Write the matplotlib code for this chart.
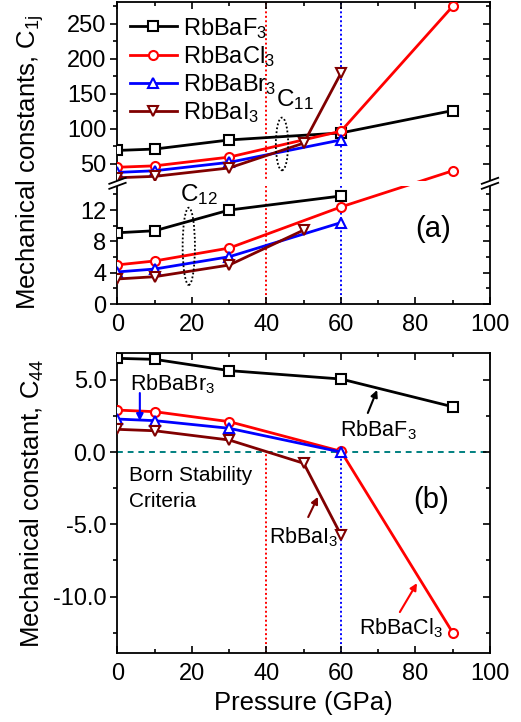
import numpy as np
import matplotlib
matplotlib.use("Agg")
import matplotlib.pyplot as plt
from matplotlib.patches import Ellipse, Rectangle
from matplotlib.lines import Line2D

plt.rcParams['font.family'] = ['Liberation Sans', 'DejaVu Sans']
plt.rcParams['mathtext.default'] = 'regular'

# ---------------- data ----------------
p_F = [0, 10, 30, 60, 90]
p_Cl = [0, 10, 30, 60, 90]
p_Br = [0, 10, 30, 60]
p_I = [0, 10, 30, 50, 60]

c11_F = [69, 71, 84, 94, 126]
c11_Cl = [45, 47, 59.5, 96.5, 275]
c11_Br = [37.6, 40, 52, 84]
c11_I = [30, 32, 44, 79.5, 179.5]

p12_F = [0, 10, 30, 60]
c12_F = [9.1, 9.36, 12.0, 13.8]
p12_Cl = [0, 10, 30, 60, 90]
c12_Cl = [5.0, 5.5, 7.15, 12.4, 40]
p12_Br = [0, 10, 30, 60]
c12_Br = [4.1, 4.47, 6.04, 10.4]
p12_I = [0, 10, 30, 50]
c12_I = [3.2, 3.49, 4.98, 9.45]

c44_F = [6.48, 6.41, 5.63, 5.05, 3.13]
c44_Cl = [2.9, 2.79, 2.1, 0.05, -12.5]
c44_Br = [2.28, 2.17, 1.64, 0.0]
c44_I = [1.57, 1.47, 0.83, -0.78, -5.74]

names = ['RbBaF$_3$', 'RbBaCl$_3$', 'RbBaBr$_3$', 'RbBaI$_3$']
colors = ['black', '#ff0000', '#0000ff', '#800000']
markers = ['s', 'o', '^', 'v']

x_ticks = [0, 20, 40, 60, 80, 100]
y1_ticks = [0, 4, 8, 12, 50, 100, 150, 200, 250]
y1_minor = [2, 6, 10, 14, 75, 125, 175, 225, 275]
y2_ticks = [5.0, 0.0, -5.0, -10.0]
y2_minor = [2.5, -2.5, -7.5, -12.5]

# broken-axis scale
L1, U0, U1 = 15.5, 23.0, 281.0
K = 0.0894


def fwd(y):
    y = np.asarray(y, dtype=float)
    return np.where(y <= L1, y, np.where(y >= U0, L1 + (y - U0) * K, L1))


def inv(t):
    t = np.asarray(t, dtype=float)
    return np.where(t <= L1, t, U0 + (t - L1) / K)


FS = 17
LFS = 18.5
fig = plt.figure(figsize=(5.21, 7.22), dpi=100)
ax1 = fig.add_axes([0.2255, 0.5789, 0.7150, 0.4183])
ax2 = fig.add_axes([0.2255, 0.0956, 0.7150, 0.4155])

lw = 2.0
ms = 6.5
mew = 1.5

# ---------- panel (a) ----------
ax1.set_yscale('function', functions=(fwd, inv))
c11 = [(p_F, c11_F), (p_Cl, c11_Cl), (p_Br, c11_Br), (p_I, c11_I)]
c12 = [(p12_F, c12_F), (p12_Cl, c12_Cl), (p12_Br, c12_Br), (p12_I, c12_I)]
for (px, py), name, c, m in zip(c11, names, colors, markers):
    ax1.plot(px, py, color=c, marker=m, lw=lw, ms=ms, mew=mew, mfc='white',
             label=name, zorder=3)
for (px, py), c, m in zip(c12, colors, markers):
    ax1.plot(px, py, color=c, marker=m, lw=lw, ms=ms, mew=mew, mfc='white',
             zorder=3)

ax1.axvline(40, color='#ff0000', ls=(0, (1, 1.3)), lw=1.4, zorder=1)
ax1.axvline(60, color='#0000ff', ls=(0, (1, 1.3)), lw=1.4, zorder=1)

ax1.set_xlim(0, 100)
ax1.set_ylim(0, U1)
ax1.set_xticks(x_ticks)
ax1.set_xticks([10, 30, 50, 70, 90], minor=True)
ax1.set_yticks(y1_ticks)
ax1.set_yticklabels([str(v) for v in y1_ticks])
ax1.set_yticks(y1_minor, minor=True)
ax1.tick_params(axis='x', which='both', direction='in', top=True, bottom=True,
                labelsize=FS, pad=7, width=1.2)
ax1.tick_params(axis='x', which='major', length=5)
ax1.tick_params(axis='x', which='minor', length=3)
ax1.tick_params(axis='y', which='both', direction='out', left=True, right=False,
                labelsize=FS, pad=3, width=1.2)
ax1.tick_params(axis='y', which='major', length=5)
ax1.tick_params(axis='y', which='minor', length=3)
for s in ax1.spines.values():
    s.set_linewidth(1.3)

ax1r = ax1.twinx()
ax1r.set_yscale('function', functions=(fwd, inv))
ax1r.set_ylim(0, U1)
ax1r.set_yticks(y1_ticks)
ax1r.set_yticks(y1_minor, minor=True)
ax1r.tick_params(axis='y', which='both', direction='in', right=True,
                 labelright=False, width=1.2)
ax1r.tick_params(axis='y', which='major', length=5)
ax1r.tick_params(axis='y', which='minor', length=3)
for s in ax1r.spines.values():
    s.set_visible(False)

ax1.set_ylabel('Mechanical constants, C$_{1j}$', fontsize=LFS)
ax1.yaxis.set_label_coords(-0.192, 0.47)

leg = ax1.legend(loc='upper left', bbox_to_anchor=(0.033, 0.955), frameon=False,
                 fontsize=FS, handlelength=2.0, handletextpad=0.25,
                 labelspacing=0.14, borderaxespad=0, borderpad=0)

ax1.text(42.6, 133, 'C$_{11}$', fontsize=17.5, va='baseline', ha='left', zorder=8)
ax1.text(16.8, 13.2, 'C$_{12}$', fontsize=17.5, va='baseline', ha='left', zorder=8)
ax1.text(79.9, 8.6, '(a)', fontsize=21, va='baseline', ha='left')

ax1.add_patch(Ellipse((0.4416, 0.530), 0.033, 0.1745, transform=ax1.transAxes,
                      fill=False, ls=(0, (1, 1.2)), lw=1.3, ec='black', zorder=4))
ax1.add_patch(Ellipse((0.1914, 0.191), 0.033, 0.256, transform=ax1.transAxes,
                      fill=False, ls=(0, (1, 1.2)), lw=1.3, ec='black', zorder=4))

# break band and marks
yb = 0.3997
hb = 0.0083
ax1.add_patch(Rectangle((-0.03, yb - hb), 1.06, 2 * hb, transform=ax1.transAxes,
                        fc='white', ec='none', zorder=6, clip_on=False))
dx, dy = 0.022, 0.010
for xs in (0.0, 1.0):
    for ye in (yb - hb, yb + hb):
        ax1.add_line(Line2D([xs - dx, xs + dx], [ye - dy, ye + dy],
                            transform=ax1.transAxes, color='black', lw=1.3,
                            clip_on=False, zorder=7))

# ---------- panel (b) ----------
c44 = [(p_F, c44_F), (p_Cl, c44_Cl), (p_Br, c44_Br), (p_I, c44_I)]
for (px, py), c, m in zip(c44, colors, markers):
    ax2.plot(px, py, color=c, marker=m, lw=lw, ms=ms, mew=mew, mfc='white',
             zorder=3)

ax2.axhline(0, color='#008080', ls=(0, (3, 2.5)), lw=1.4, zorder=1)
ax2.vlines(40, -13.9, 0, color='#ff0000', ls=(0, (1, 1.3)), lw=1.4, zorder=1)
ax2.vlines(60, -13.9, 0, color='#0000ff', ls=(0, (1, 1.3)), lw=1.4, zorder=1)

ax2.set_xlim(0, 100)
ax2.set_ylim(-13.9, 6.85)
ax2.set_xticks(x_ticks)
ax2.set_xticks([10, 30, 50, 70, 90], minor=True)
ax2.set_yticks(y2_ticks)
ax2.set_yticklabels(['%.1f' % v for v in y2_ticks])
ax2.set_yticks(y2_minor, minor=True)
ax2.tick_params(axis='x', which='both', direction='in', top=True, bottom=True,
                labelsize=FS, pad=7, width=1.2)
ax2.tick_params(axis='x', which='major', length=5)
ax2.tick_params(axis='x', which='minor', length=3)
ax2.tick_params(axis='y', which='both', direction='out', left=True, right=False,
                labelsize=FS, pad=3, width=1.2)
ax2.tick_params(axis='y', which='major', length=5)
ax2.tick_params(axis='y', which='minor', length=3)
for s in ax2.spines.values():
    s.set_linewidth(1.3)

ax2r = ax2.twinx()
ax2r.set_ylim(-13.9, 6.85)
ax2r.set_yticks(y2_ticks)
ax2r.set_yticks(y2_minor, minor=True)
ax2r.tick_params(axis='y', which='both', direction='in', right=True,
                 labelright=False, width=1.2)
ax2r.tick_params(axis='y', which='major', length=5)
ax2r.tick_params(axis='y', which='minor', length=3)
for s in ax2r.spines.values():
    s.set_visible(False)

ax2.set_ylabel('Mechanical constant, C$_{44}$', fontsize=LFS)
ax2.yaxis.set_label_coords(-0.192, 0.5)
ax2.set_xlabel('Pressure (GPa)', fontsize=LFS)
ax2.xaxis.set_label_coords(0.5, -0.127)

AFS = 15.5
ap = dict(arrowstyle='-|>', lw=1.5, mutation_scale=10, shrinkA=0, shrinkB=0)
ax2.text(3.4, 4.29, 'RbBaBr$_3$', fontsize=AFS, va='baseline', ha='left')
ax2.annotate('', xy=(6.0, 2.15), xytext=(6.0, 4.08),
             arrowprops=dict(color='#0000ff', **ap))
ax2.text(59.7, 1.1, 'RbBaF$_3$', fontsize=AFS, va='baseline', ha='left')
ax2.annotate('', xy=(69.7, 4.29), xytext=(67.2, 2.7),
             arrowprops=dict(color='black', **ap))
ax2.text(40.8, -6.3, 'RbBaI$_3$', fontsize=AFS, va='baseline', ha='left')
ax2.annotate('', xy=(53.8, -3.1), xytext=(51.2, -4.5),
             arrowprops=dict(color='#800000', **ap))
ax2.text(64.9, -12.6, 'RbBaCl$_3$', fontsize=AFS, va='baseline', ha='left')
ax2.annotate('', xy=(80.4, -9.07), xytext=(75.8, -11.07),
             arrowprops=dict(color='#ff0000', **ap))
ax2.text(3.2, -1.98, 'Born Stability', fontsize=15, va='baseline', ha='left')
ax2.text(3.2, -3.79, 'Criteria', fontsize=15, va='baseline', ha='left')
ax2.text(79.4, -3.9, '(b)', fontsize=21, va='baseline', ha='left')

fig.savefig('out.png', dpi=100)
